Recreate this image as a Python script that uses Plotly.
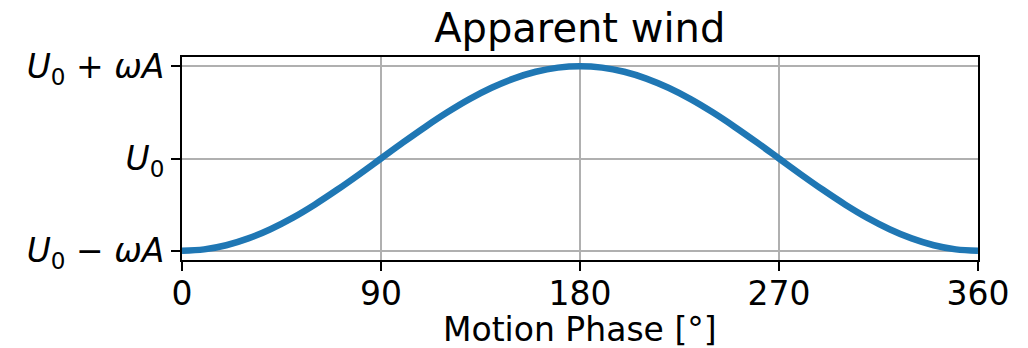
import plotly.graph_objects as go

# Motion phase in degrees and the apparent wind speed, scaled so that
# -1 -> U0 - wA, 0 -> U0, +1 -> U0 + wA
phase_deg = [0, 10, 20, 30, 40, 50, 60, 70, 80, 90, 100, 110, 120, 130, 140, 150, 160, 170, 180,
             190, 200, 210, 220, 230, 240, 250, 260, 270, 280, 290, 300, 310, 320, 330, 340, 350, 360]
apparent_wind = [-1.0, -0.985, -0.94, -0.866, -0.766, -0.643, -0.5, -0.342, -0.174, 0.0,
                 0.174, 0.342, 0.5, 0.643, 0.766, 0.866, 0.94, 0.985, 1.0,
                 0.985, 0.94, 0.866, 0.766, 0.643, 0.5, 0.342, 0.174, 0.0,
                 -0.174, -0.342, -0.5, -0.643, -0.766, -0.866, -0.94, -0.985, -1.0]

x_ticks = [0, 90, 180, 270, 360]
y_tick_values = [-1, 0, 1]
y_tick_labels = ["<i>U</i><sub>0</sub> \u2212 <i>\u03c9A</i>",
                 "<i>U</i><sub>0</sub>",
                 "<i>U</i><sub>0</sub> + <i>\u03c9A</i>"]

W, H = 1028, 348
L, R, T, B = 181.5, 50, 57, 88
FONT = "DejaVu Sans"
TICK_FONT = dict(family=FONT, size=33, color="black")

fig = go.Figure()
fig.add_trace(go.Scatter(
    x=phase_deg, y=apparent_wind, mode="lines",
    line=dict(color="#1f77b4", width=6.5, shape="spline", smoothing=1.0),
    showlegend=False,
))
# transparent copy on the label axis so that axis gets drawn
fig.add_trace(go.Scatter(
    x=phase_deg, y=apparent_wind, mode="lines", xaxis="x2", yaxis="y",
    line=dict(color="rgba(0,0,0,0)", width=0), hoverinfo="skip", showlegend=False,
))

axis_common = dict(
    showline=True, linecolor="black", linewidth=2, mirror=True,
    ticks="outside", ticklen=9, tickwidth=2, tickcolor="black",
    showgrid=True, gridcolor="#b0b0b0", gridwidth=2,
    zeroline=False, automargin=False,
    tickfont=TICK_FONT,
)

fig.update_layout(
    width=W, height=H,
    margin=dict(l=L, r=R, t=T, b=B, pad=0, autoexpand=False),
    paper_bgcolor="white", plot_bgcolor="white",
    font=dict(family=FONT, color="black"),
    title=dict(text="Apparent wind", font=dict(family=FONT, size=40, color="black"),
               x=(L + (W - R)) / 2 / W, xanchor="center",
               xref="container", yref="container",
               y=1 - 28 / H, yanchor="middle"),
    # main x axis: frame, ticks and grid
    xaxis=dict(range=[0, 360], tickvals=x_ticks, showticklabels=False, **axis_common),
    # label-only x axis so the tick numbers sit close under the tick marks
    xaxis2=dict(range=[0, 360], overlaying="x", anchor="y", side="bottom",
                tickvals=x_ticks, ticktext=[str(v) for v in x_ticks],
                ticks="outside", ticklen=4, tickcolor="rgba(0,0,0,0)",
                showline=False, showgrid=False, zeroline=False, automargin=False,
                tickfont=TICK_FONT),
    yaxis=dict(range=[-1.1, 1.1], tickvals=y_tick_values, ticktext=y_tick_labels,
               **axis_common),
    annotations=[dict(text="Motion Phase [\u00b0]", xref="paper", yref="paper",
                      x=0.5, y=-(329 - (H - B)) / (H - T - B), xanchor="center", yanchor="middle",
                      showarrow=False, font=dict(family=FONT, size=33, color="black"))],
)

fig.write_html("out.html")
